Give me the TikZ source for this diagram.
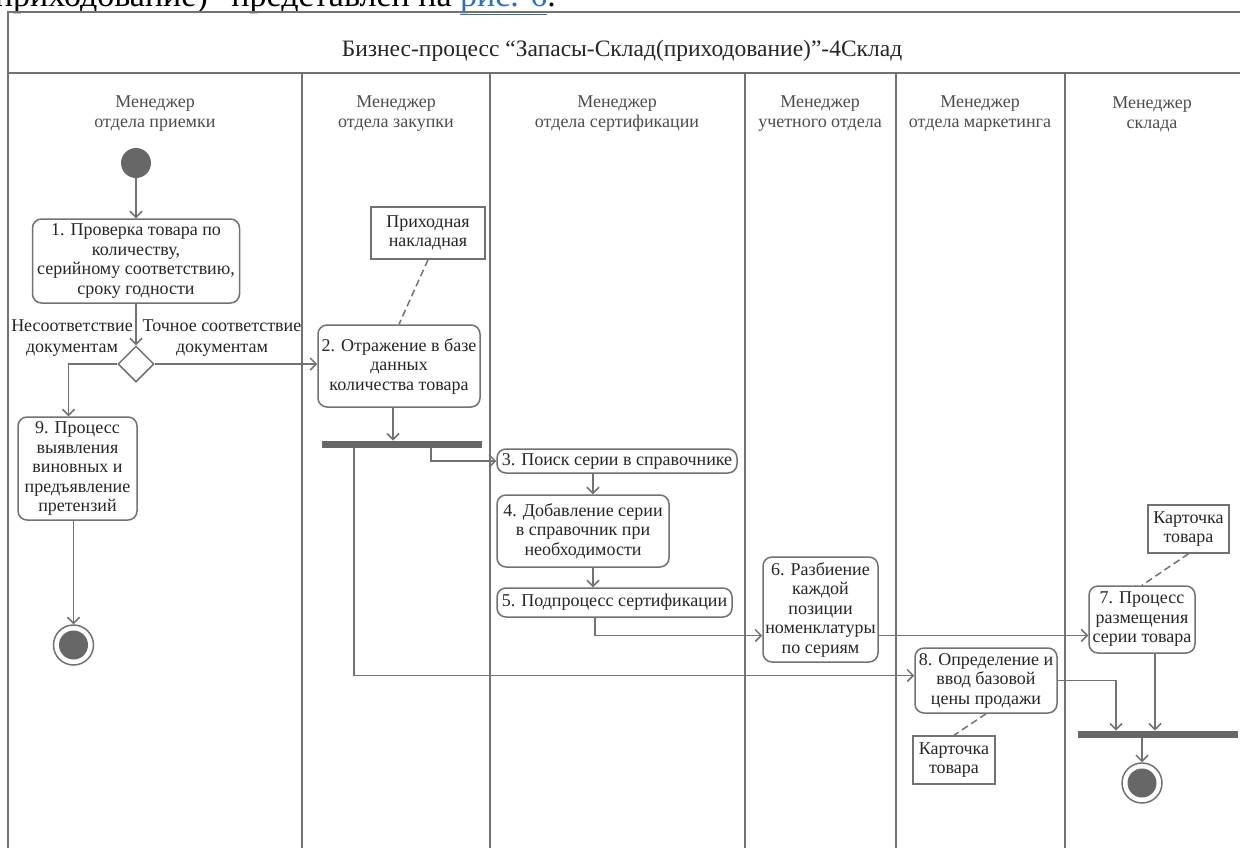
\documentclass[tikz,border=0pt]{standalone}
\usepackage{fontspec}
\setmainfont{Liberation Serif}
\usetikzlibrary{arrows.meta}
\usetikzlibrary{shapes.geometric}
\definecolor{linegray}{HTML}{727272}
\definecolor{txtgray}{HTML}{262626}
\definecolor{hdrgray}{HTML}{4C4C4C}
\definecolor{fillgray}{HTML}{676767}
\definecolor{linkblue}{HTML}{2A72B5}
\tikzset{>={Straight Barb[length=6pt,width=12pt]}}
\tikzset{
act/.style = {draw=linegray, line width=1.5pt, rounded corners=9pt, align=center,
              text=txtgray, inner sep=1pt, font=\fontsize{18}{19.5}\selectfont},
note/.style = {draw=linegray, line width=1.5pt, align=center, text=txtgray,
               inner sep=1pt, font=\fontsize{18}{19.5}\selectfont},
bar/.style = {fill=fillgray, minimum width=160pt, minimum height=7.5pt, inner sep=0pt},
startnode/.style = {circle, fill=fillgray, minimum size=30pt, inner sep=0pt},
endnode/.style = {circle, draw=linegray, line width=1.5pt, minimum size=40pt, inner sep=0pt,
                  path picture={\fill[fillgray] (path picture bounding box.center) circle (14.5pt);}},
choice/.style = {diamond, draw=linegray, line width=1.5pt, minimum width=36pt,
                 minimum height=36pt, inner sep=0pt},
lane/.style = {draw=linegray, line width=2.2pt},
hdr/.style = {align=center, text=hdrgray, font=\fontsize{18}{20}\selectfont},
lbl/.style = {align=center, text=txtgray, inner sep=0pt, font=\fontsize{18}{21}\selectfont},
flow/.style = {->, draw=linegray, line width=1.5pt},
link/.style = {draw=linegray, line width=1.5pt, dashed, dash pattern=on 7pt off 4pt},
}

\begin{document}
\begin{tikzpicture}[x=1pt, y=-1pt]
	\useasboundingbox (0,0) rectangle (1240,847);
	\clip (0,0) rectangle (1240,847);
	\fill [white] (0,0) rectangle (1240,847);
	\node [anchor=base east, inner sep=0pt, font=\fontsize{34}{34}\selectfont] (cap) at (556,6)
		{приходование)” представлен на \textcolor{linkblue}{\underline{рис. 6}}.};
	\draw [lane] (8,860) -- (8,12) -- (1250,12);
	\draw [lane] (8,73) -- (1250,73);
	\foreach \x in {302,490,745,896,1065}
		\draw [lane] (\x,73) -- (\x,860);
	\node [hdr, font=\fontsize{23.5}{26}\selectfont, text=txtgray] (title) at (622,51) {Бизнес-процесс “Запасы-Склад(приходование)”-4Склад};
	\node [hdr] (h1) at (155,114) {Менеджер\\отдела приемки};
	\node [hdr] (h2) at (396,114) {Менеджер\\отдела закупки};
	\node [hdr] (h3) at (617,114) {Менеджер\\отдела сертификации};
	\node [hdr] (h4) at (820,114) {Менеджер\\учетного отдела};
	\node [hdr] (h5) at (980,114) {Менеджер\\отдела маркетинга};
	\node [hdr] (h6) at (1152,114) {Менеджер\\склада};

	\node [startnode] (s) at (136,163) {};
	\node [act, minimum width=207pt, minimum height=84pt] (1) at (136,261) {1. Проверка товара по\\количеству,\\серийному соответствию,\\сроку годности};
	\node [choice] (d) at (136,364) {};
	\node [lbl] (l1) at (72,338) {Несоответствие\\документам};
	\node [lbl] (l2) at (222,338) {Точное соответствие\\документам};
	\node [act, minimum width=119pt, minimum height=103pt] (9) at (77.5,468.5) {9. Процесс\\выявления\\виновных и\\предъявление\\претензий};
	\node [endnode] (e1) at (73.5,645) {};
	\node [note, minimum width=114pt, minimum height=52pt] (n2) at (428,233) {Приходная\\накладная};
	\node [act, minimum width=162pt, minimum height=82pt] (2) at (399,366) {2. Отражение в базе\\данных\\количества товара};
	\node [bar] (f1) at (402,444.5) {};
	\node [act, minimum width=240pt, minimum height=24pt] (3) at (617,461) {3. Поиск серии в справочнике};
	\node [act, minimum width=172pt, minimum height=72pt] (4) at (583,531) {4. Добавление серии\\в справочник при\\необходимости};
	\node [act, minimum width=235pt, minimum height=29pt] (5) at (614.5,602.5) {5. Подпроцесс сертификации};
	\node [act, minimum width=115pt, minimum height=105pt] (6) at (820.5,609.5) {6. Разбиение\\каждой\\позиции\\номенклатуры\\по сериям};
	\node [note, minimum width=81pt, minimum height=48pt] (n7) at (1188.5,529) {Карточка\\товара};
	\node [act, minimum width=106pt, minimum height=67pt] (7) at (1142,619.5) {7. Процесс\\размещения\\серии товара};
	\node [act, minimum width=142pt, minimum height=65pt] (8) at (986,680.5) {8. Определение и\\ввод базовой\\цены продажи};
	\node [note, minimum width=82pt, minimum height=48pt] (n8) at (954,760) {Карточка\\товара};
	\node [bar] (f2) at (1158,734.5) {};
	\node [endnode] (e2) at (1142,783) {};

	\draw [flow] (s) to (1.north);
	\draw [flow] (1.south) to (d.north);
	\draw [flow] (d.east) to (d.east -| 2.west);
	\draw [flow] (d.west) -| ([xshift=-9pt]9.north);
	\draw [flow] ([xshift=-4pt]9.south) to (e1.north);
	\draw [link] (n2.south) to (2.north);
	\draw [flow] ([xshift=-6pt]2.south) to ([xshift=-6pt]2.south |- f1.north);
	\draw [flow] ([xshift=29pt]f1.south) |- (3.west);
	\draw [flow] ([xshift=-48pt]f1.south) |- ([yshift=5pt]8.west);
	\draw [flow] ([xshift=10pt]4.north |- 3.south) to ([xshift=10pt]4.north);
	\draw [flow] ([xshift=10pt]4.south) to ([xshift=10pt]4.south |- 5.north);
	\draw [flow] ([xshift=-19.5pt]5.south) |- ([yshift=-26pt]6.west);
	\draw [flow] ([yshift=-26pt]6.east) to ([yshift=-26pt]6.east -| 7.west);
	\draw [link] (n7.south) to (7.north);
	\draw [link] (8.south) to (n8.north);
	\draw [flow] (8.east) -| ([xshift=-42pt]f2.north);
	\draw [flow] ([xshift=13pt]7.south) to ([xshift=13pt]7.south |- f2.north);
	\draw [flow] (f2.south -| e2.north) to (e2.north);
\end{tikzpicture}
\end{document}
